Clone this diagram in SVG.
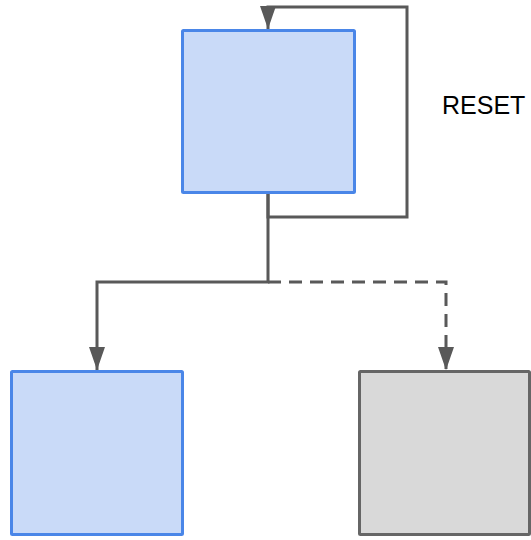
<svg xmlns="http://www.w3.org/2000/svg" width="531" height="540" viewBox="0 0 531 540">
<style>
.blue{fill:#c9daf8;stroke:#4a86e8;stroke-width:3}
.grey{fill:#d9d9d9;stroke:#666666;stroke-width:3}
.conn{fill:none;stroke:#595959;stroke-width:3}
.dash{stroke-dasharray:13,8}
.lbl{font-family:"Liberation Sans",Arial,sans-serif;font-size:25px;fill:#000}
</style>
<defs>
<marker id="ah" markerUnits="userSpaceOnUse" markerWidth="23" markerHeight="16" refX="23" refY="8" orient="auto" viewBox="0 0 23 16">
<path d="M0,0 L23,8 L0,16 Z" fill="#595959"/>
</marker>
</defs>
<g id="connectors">
<path class="conn" d="M268,193 V217 H407 V7 H268 V29" marker-end="url(#ah)"/>
<path class="conn" d="M268,193 V282 H97 V370" marker-end="url(#ah)"/>
<path class="conn dash" d="M268,282 H446 V370" marker-end="url(#ah)"/>
</g>
<g id="top"><rect class="blue" x="182.5" y="30.5" width="172" height="162" rx="1"/></g>
<g id="left"><rect class="blue" x="11.5" y="371.5" width="171" height="163" rx="1"/></g>
<g id="right"><rect class="grey" x="359.5" y="371.5" width="170" height="163" rx="1"/></g>
<g id="reset"><text class="lbl" x="442" y="114">RESET</text></g>
</svg>
